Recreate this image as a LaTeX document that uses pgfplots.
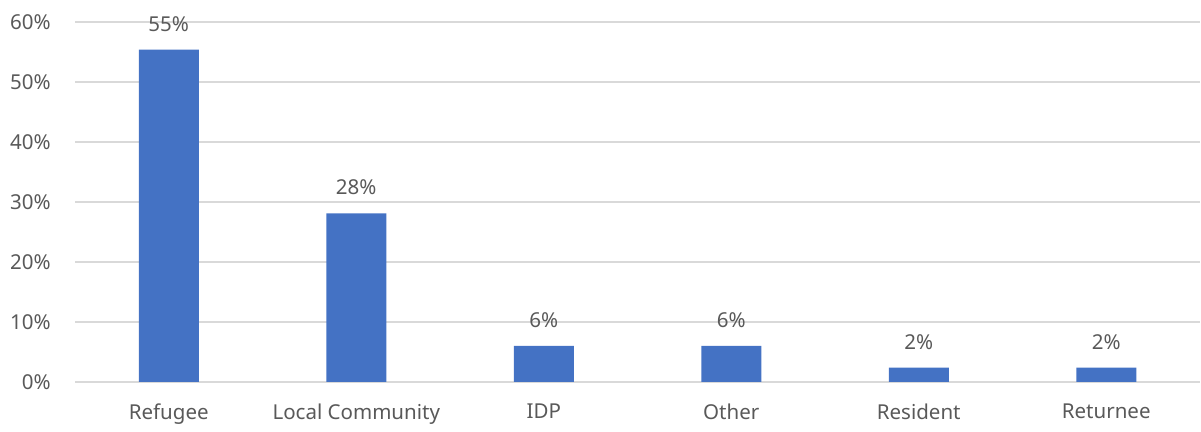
\documentclass[border=0pt]{standalone}
\usepackage{pgfplots}
\pgfplotsset{compat=1.18}
\usepackage{fontspec}
\setmainfont{Noto Sans}
\definecolor{barblue}{HTML}{4472C4}
\definecolor{txtgray}{HTML}{595959}
\definecolor{gridgray}{HTML}{D9D9D9}
\begin{document}
\begin{tikzpicture}
    \fontsize{10.3}{12}\selectfont
    \begin{axis}[
            scale only axis,
            width = 562.5bp,
            height = 180bp,
            xmin = -0.5,
            xmax = 5.5,
            ymin = 0,
            ymax = 60,
            ytick = {0,10,...,60},
            yticklabel = {\pgfmathprintnumber{\tick}\%},
            xtick = {0,1,2,3,4,5},
            xticklabels = {Refugee, Local Community, IDP, Other, Resident, Returnee},
            /pgf/number format/assume math mode=true,
            axis line style = {draw=none},
            major tick length = 0pt,
            ymajorgrids,
            grid style = {gridgray, line width=0.8bp},
            tick label style = {txtgray, font=\fontsize{10.3}{12}\selectfont},
            y tick label style = {xshift=-8.5bp},
            x tick label style = {yshift=-7.5bp},
            clip = false,
        ]
        \addplot [
            ybar,
            bar width = 30bp,
            fill = barblue,
            draw = none,
            nodes near coords = {\pgfmathprintnumber[fixed,precision=0]{\pgfplotspointmeta}\%},
            nodes near coords style = {txtgray, font=\fontsize{10.3}{12}\selectfont, yshift=5.5bp},
        ]
        coordinates {
                (0, 55.4)
                (1, 28.1)
                (2, 6.0)
                (3, 6.0)
                (4, 2.4)
                (5, 2.4)
            };
    \end{axis}
    \path (current axis.south west) ++(-37.5bp, -22bp) coordinate (bbsw);
    \path (current axis.north east) ++(0.5bp, 11bp) coordinate (bbne);
    \path (bbsw) rectangle (bbne);
\end{tikzpicture}
\end{document}
